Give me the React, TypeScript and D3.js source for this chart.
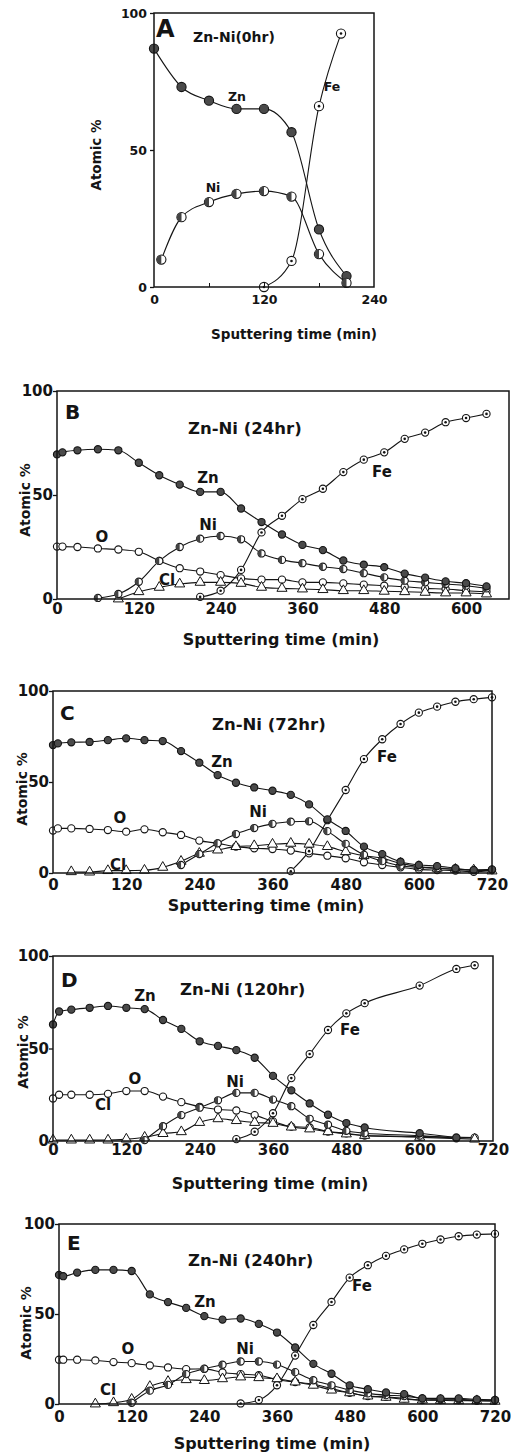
import * as d3 from 'd3';
import { useEffect, useRef } from 'react';

// sputtering time (min) / atomic %

// A : Zn-Ni (0 hr)
const aZnTime = [0, 30, 60, 90, 120, 150, 180, 210];
const aZnPct = [87, 73, 68, 65, 65, 56.5, 21, 4];
const aNiTime = [8, 30, 60, 90, 120, 150, 180, 210];
const aNiPct = [10, 25.5, 31, 34, 35, 33, 12, 1.5];
const aFeTime = [120, 150, 180, 204];
const aFePct = [0, 9.5, 66, 92.5];

// B : Zn-Ni (24 hr)
const bZnTime = [0, 8, 30, 60, 90, 120, 150, 180, 210, 240, 270, 300, 330, 360, 390, 420, 450, 480, 510, 540, 570, 600, 630];
const bZnPct = [69.5, 70.5, 71.5, 72, 71.5, 65.5, 59.5, 55, 51.5, 51.5, 43.5, 37, 31, 26, 23.5, 18.5, 16.5, 15.3, 12.2, 10.3, 8.5, 7.6, 6.1];
const bOTime = [0, 8, 30, 60, 90, 120, 150, 180, 210, 240, 270, 300, 330, 360, 390, 420, 450, 480, 510, 540, 570, 600, 630];
const bOPct = [25.2, 25.2, 25, 24.3, 23.8, 22.7, 18.3, 14.8, 13.2, 11.5, 9.9, 9.3, 9.3, 8, 8, 7.5, 6.9, 6.4, 5.9, 5.1, 4.8, 4, 3.5];
const bNiTime = [60, 90, 120, 150, 180, 210, 240, 270, 300, 330, 360, 390, 420, 450, 480, 510, 540, 570, 600, 630];
const bNiPct = [0.5, 2.4, 8.3, 18.3, 25, 29, 30.3, 28.7, 21.9, 18.8, 17.2, 15.5, 14.4, 12.4, 10.4, 8.8, 8, 7.2, 6.4, 5.1];
const bClTime = [90, 120, 150, 180, 210, 240, 270, 300, 330, 360, 390, 420, 450, 480, 510, 540, 570, 600, 630];
const bClPct = [0, 3.5, 5.6, 7.2, 8, 8, 7.5, 5.6, 5.1, 4.8, 4.5, 4, 4, 3.7, 3.5, 3.2, 2.9, 2.9, 2.4];
const bFeTime = [210, 240, 270, 300, 330, 360, 390, 420, 450, 480, 510, 540, 570, 600, 630];
const bFePct = [1, 4, 14, 32, 40, 48, 53, 61, 67, 70.5, 77, 80, 85, 87, 89];

// C : Zn-Ni (72 hr)
const cZnTime = [0, 8, 30, 60, 90, 120, 150, 180, 210, 240, 270, 300, 330, 360, 390, 420, 450, 480, 510, 540, 570, 600, 630, 660, 690, 720];
const cZnPct = [70.3, 71.2, 71.8, 72, 73, 74, 73, 72.5, 67, 60.6, 53.8, 49.6, 47, 45.2, 42.9, 37.7, 29.5, 23.1, 14.5, 10.4, 6.2, 4.4, 3.8, 2.6, 1.6, 2];
const cOTime = [0, 8, 30, 60, 90, 120, 150, 180, 210, 240, 270, 300, 330, 360, 390, 420, 450, 480, 510, 540, 570, 600, 630, 660, 690, 720];
const cOPct = [23.3, 24.5, 24.5, 24.2, 23.6, 22.7, 24, 22.4, 20.9, 17.8, 16.3, 14.5, 13.6, 13.2, 12.3, 10.8, 9.5, 8.1, 5.9, 4.4, 3.1, 2, 1.6, 1.3, 0.7, 1.6];
const cNiTime = [210, 240, 270, 300, 330, 360, 390, 420, 450, 480, 510, 540, 570, 600, 630, 660, 690, 720];
const cNiPct = [4.4, 10.4, 16.3, 21.4, 24.7, 27, 28.2, 28.4, 23, 16, 10, 6.5, 4, 3.1, 2.6, 2, 1.6, 1.6];
const cClTime = [30, 60, 90, 120, 150, 180, 210, 240, 270, 300, 330, 360, 390, 420, 450, 480, 510, 540, 570, 600, 630, 660, 690, 720];
const cClPct = [0.7, 0.5, 1.3, 1.3, 1.5, 3.1, 6.4, 10.8, 12.6, 14.5, 15, 15.8, 16.3, 15.8, 14.5, 11.7, 9.5, 8.1, 5.3, 3.5, 2.6, 2, 1.6, 1.1];
const cFeTime = [390, 420, 450, 480, 510, 540, 570, 600, 630, 660, 690, 720];
const cFePct = [1, 12, 29, 45.6, 62.6, 73.5, 81.9, 88.1, 91.4, 94.1, 95.5, 96.5];

// D : Zn-Ni (120 hr)
const dZnTime = [0, 10, 30, 60, 90, 120, 150, 180, 210, 240, 270, 300, 330, 360, 390, 420, 450, 480, 510, 600, 660];
const dZnPct = [63, 70, 71, 72, 73, 72, 71.3, 65.4, 60.6, 53.9, 51.4, 49.1, 45, 35.2, 27.4, 20.3, 14.2, 9.7, 7.3, 4.2, 1.9];
const dOTime = [0, 10, 30, 60, 90, 120, 150, 180, 210, 240, 270, 300, 330, 360, 390, 420, 450, 480, 510, 600, 690];
const dOPct = [23, 25, 25, 25, 25.5, 27, 27, 24, 21, 18.5, 17, 16.5, 14, 10.6, 7.8, 7.3, 5.1, 4.2, 2.9, 2.4, 1.8];
const dNiTime = [150, 180, 210, 240, 270, 300, 330, 360, 390, 420, 450, 480, 510, 600, 660];
const dNiPct = [0.5, 8, 14, 18, 22, 26, 26, 22.4, 18.8, 12, 8.8, 5.5, 4.2, 2.9, 1.5];
const dClTime = [0, 30, 60, 90, 120, 150, 180, 210, 240, 270, 300, 330, 360, 390, 420, 450, 480, 510, 600, 690];
const dClPct = [0.5, 0.5, 0.5, 0.5, 1, 2, 4, 5, 10, 12, 11, 10, 9.5, 7.5, 6.5, 5, 3.8, 3, 2, 1];
const dFeTime = [300, 330, 360, 390, 420, 450, 480, 510, 600, 660, 690];
const dFePct = [1, 5, 15, 34, 47, 60, 69, 74.5, 84, 93, 95];

// E : Zn-Ni (240 hr)
const eZnTime = [0, 7, 30, 60, 90, 120, 150, 180, 210, 240, 270, 300, 330, 360, 390, 420, 450, 480, 510, 540, 570, 600, 630, 660, 690, 720];
const eZnPct = [71.7, 71, 73, 74.5, 74.5, 73.9, 60.9, 56.6, 53.4, 48.8, 46.9, 47.5, 44.5, 39.7, 31.4, 22.3, 16.8, 10.4, 8.2, 6.4, 5.5, 3.1, 3.1, 3.1, 2.6, 2.2];
const eOTime = [0, 7, 30, 60, 90, 120, 150, 180, 210, 240, 270, 300, 330, 360, 390, 420, 450, 480, 510, 540, 570, 600, 630, 660, 690, 720];
const eOPct = [24.6, 24.6, 24.6, 24.2, 23.3, 22.7, 21.4, 20.3, 19.4, 19.5, 17.5, 16.6, 16, 13.5, 12.2, 11, 8.6, 6.2, 4.4, 4, 3.1, 2.2, 2.2, 2.2, 1.8, 1.8];
const eNiTime = [120, 150, 180, 210, 240, 270, 300, 330, 360, 390, 420, 450, 480, 510, 540, 570, 600, 630, 660, 690, 720];
const eNiPct = [0.7, 7.4, 10.6, 16.6, 19.6, 21.8, 23.6, 23.6, 21.9, 17.7, 13.2, 10.4, 7.7, 5.9, 4.9, 4.4, 3.1, 2.6, 2.6, 2.2, 2.2];
const eClTime = [60, 90, 120, 150, 180, 210, 240, 270, 300, 330, 360, 390, 420, 450, 480, 510, 540, 570, 600, 630, 660, 690, 720];
const eClPct = [0, 0.7, 2.6, 9.7, 12.5, 13.5, 13, 14, 15, 14.6, 14, 12.2, 10.4, 7.7, 6.2, 4.4, 3.7, 2.6, 2.2, 2, 1.8, 1.8, 1.5];
const eFeTime = [300, 330, 360, 390, 420, 450, 480, 510, 540, 570, 600, 630, 660, 690, 720];
const eFePct = [0.3, 2.2, 10.4, 26.9, 43.9, 56.7, 70.2, 77.1, 82.3, 85.9, 89, 91.4, 93.2, 94.1, 94.5];

const xTicksA = [0, 120, 240];
const xMinorA = [60, 120, 180];
const xTicksB = [0, 120, 240, 360, 480, 600];
const xTicks720 = [0, 120, 240, 360, 480, 600, 720];
const yTicks = [0, 50, 100];

const INK = '#141414';
const FONT = "'DejaVu Sans', sans-serif";

const big = { tick: 15, lab: 15, title: 16.5, letter: 20, ytitle: 14, xtitle: 16, r: 3.6, yPad: 0 };

const panels = [
  {
    letter: 'A', title: 'Zn-Ni(0hr)', l: 154, r: 374, t: 13, b: 287, xEnd: 240,
    xTicks: xTicksA, minor: xMinorA, xPad: 8,
    fs: { tick: 12.5, lab: 12.5, title: 14, letter: 24, ytitle: 13.5, xtitle: 13.5, r: 4.6, yPad: 3 },
    letterPos: [156, 37], titlePos: [193, 42], yTitlePos: [96, 155], xTitlePos: [294, 339],
    series: [
      { kind: 'zn', t: aZnTime, v: aZnPct, lab: 'Zn', at: [237, 96] },
      { kind: 'ni', t: aNiTime, v: aNiPct, lab: 'Ni', at: [213, 187] },
      { kind: 'fe', t: aFeTime, v: aFePct, lab: 'Fe', at: [332, 86] },
    ],
  },
  {
    letter: 'B', title: 'Zn-Ni (24hr)', l: 57, r: 509, t: 391, b: 599, xEnd: 663,
    xTicks: xTicksB, minor: [], xPad: 4, fs: big,
    letterPos: [65, 419], titlePos: [188, 434], yTitlePos: [25, 500], xTitlePos: [281, 645],
    series: [
      { kind: 'o', t: bOTime, v: bOPct, lab: 'O', at: [102, 537] },
      { kind: 'cl', t: bClTime, v: bClPct, lab: 'Cl', at: [167, 580] },
      { kind: 'ni', t: bNiTime, v: bNiPct, lab: 'Ni', at: [208, 525] },
      { kind: 'fe', t: bFeTime, v: bFePct, lab: 'Fe', at: [382, 472] },
      { kind: 'zn', t: bZnTime, v: bZnPct, lab: 'Zn', at: [208, 478] },
    ],
  },
  {
    letter: 'C', title: 'Zn-Ni (72hr)', l: 53, r: 492, t: 691, b: 873, xEnd: 720,
    xTicks: xTicks720, minor: [], xPad: 6, fs: big,
    letterPos: [60, 720], titlePos: [212, 730], yTitlePos: [22, 789], xTitlePos: [266, 911],
    series: [
      { kind: 'o', t: cOTime, v: cOPct, lab: 'O', at: [120, 818] },
      { kind: 'cl', t: cClTime, v: cClPct, lab: 'Cl', at: [118, 865] },
      { kind: 'ni', t: cNiTime, v: cNiPct, lab: 'Ni', at: [258, 812] },
      { kind: 'fe', t: cFeTime, v: cFePct, lab: 'Fe', at: [387, 757] },
      { kind: 'zn', t: cZnTime, v: cZnPct, lab: 'Zn', at: [222, 762] },
    ],
  },
  {
    letter: 'D', title: 'Zn-Ni (120hr)', l: 53, r: 493, t: 956, b: 1141, xEnd: 720,
    xTicks: xTicks720, minor: [], xPad: 3, fs: big,
    letterPos: [61, 987], titlePos: [180, 995], yTitlePos: [23, 1052], xTitlePos: [270, 1189],
    series: [
      { kind: 'o', t: dOTime, v: dOPct, lab: 'O', at: [135, 1079] },
      { kind: 'cl', t: dClTime, v: dClPct, lab: 'Cl', at: [103, 1105] },
      { kind: 'ni', t: dNiTime, v: dNiPct, lab: 'Ni', at: [235, 1082] },
      { kind: 'fe', t: dFeTime, v: dFePct, lab: 'Fe', at: [350, 1030] },
      { kind: 'zn', t: dZnTime, v: dZnPct, lab: 'Zn', at: [145, 996] },
    ],
  },
  {
    letter: 'E', title: 'Zn-Ni (240hr)', l: 59, r: 495, t: 1224, b: 1404, xEnd: 720,
    xTicks: xTicks720, minor: [], xPad: 7, fs: big,
    letterPos: [67, 1250], titlePos: [188, 1266], yTitlePos: [26, 1323], xTitlePos: [272, 1449],
    series: [
      { kind: 'o', t: eOTime, v: eOPct, lab: 'O', at: [128, 1349] },
      { kind: 'cl', t: eClTime, v: eClPct, lab: 'Cl', at: [108, 1390] },
      { kind: 'ni', t: eNiTime, v: eNiPct, lab: 'Ni', at: [245, 1349] },
      { kind: 'fe', t: eFeTime, v: eFePct, lab: 'Fe', at: [362, 1286] },
      { kind: 'zn', t: eZnTime, v: eZnPct, lab: 'Zn', at: [205, 1302] },
    ],
  },
];

function marker(g: any, kind: string, cx: number, cy: number, r: number) {
  if (kind === 'cl') {
    g.append('path')
      .attr('transform', `translate(${cx},${cy})`)
      .attr('d', d3.symbol(d3.symbolTriangle, r * r * 3.4)())
      .attr('fill', '#fff').attr('stroke', INK).attr('stroke-width', 1);
    return;
  }
  g.append('circle')
    .attr('cx', cx).attr('cy', cy).attr('r', r)
    .attr('fill', kind === 'zn' ? '#4a4a4a' : '#fff')
    .attr('stroke', INK).attr('stroke-width', 1.1);
  if (kind === 'ni') {
    g.append('path')
      .attr('d', `M${cx},${cy - r} A${r},${r} 0 0 0 ${cx},${cy + r} Z`)
      .attr('fill', '#444');
  }
  if (kind === 'fe') {
    g.append('circle').attr('cx', cx).attr('cy', cy).attr('r', 1.3).attr('fill', INK);
  }
}

function drawPanel(svg: any, p: any) {
  const x = d3.scaleLinear().domain([0, p.xEnd]).range([p.l, p.r]);
  const y = d3.scaleLinear().domain([0, 100]).range([p.b, p.t]);
  const fs = p.fs;
  const g = svg.append('g').attr('font-family', FONT).attr('font-weight', 'bold');

  const line = d3.line<[number, number]>()
    .x(d => x(d[0]))
    .y(d => y(d[1]))
    .curve(d3.curveMonotoneX);

  p.series.forEach((s: any) => {
    const pts = s.t.map((t: number, i: number) => [t, s.v[i]] as [number, number]);
    g.append('path').attr('d', line(pts)).attr('fill', 'none')
      .attr('stroke', INK).attr('stroke-width', 1.1);
  });
  p.series.forEach((s: any) => {
    s.t.forEach((t: number, i: number) => marker(g, s.kind, x(t), y(s.v[i]), fs.r));
  });

  // frame
  g.append('rect')
    .attr('x', p.l).attr('y', p.t)
    .attr('width', p.r - p.l).attr('height', p.b - p.t)
    .attr('fill', 'none').attr('stroke', INK).attr('stroke-width', 1.5);

  // x axis
  const xa = g.append('g')
    .attr('transform', `translate(0,${p.b})`)
    .call(d3.axisBottom(x).tickValues(p.xTicks).tickSize(0).tickPadding(p.xPad).tickFormat(d3.format('d')));
  xa.select('.domain').remove();
  xa.attr('font-size', fs.tick).attr('font-family', FONT).attr('color', INK);

  if (p.minor.length) {
    const mi = g.append('g')
      .attr('transform', `translate(0,${p.b})`)
      .call(d3.axisBottom(x).tickValues(p.minor).tickSize(-4).tickFormat(() => ''));
    mi.select('.domain').remove();
    mi.attr('color', INK);
  }

  // y axis
  const ya = g.append('g')
    .attr('transform', `translate(${p.l},0)`)
    .call(d3.axisLeft(y).tickValues(yTicks).tickSize(4).tickPadding(fs.yPad));
  ya.select('.domain').remove();
  ya.attr('font-size', fs.tick).attr('font-family', FONT).attr('color', INK);
  ya.selectAll('line').attr('stroke-width', 1.3);

  // texts
  g.append('text').attr('x', p.letterPos[0]).attr('y', p.letterPos[1])
    .attr('font-size', fs.letter).attr('fill', INK).text(p.letter);
  g.append('text').attr('x', p.titlePos[0]).attr('y', p.titlePos[1])
    .attr('font-size', fs.title).attr('fill', INK).text(p.title);
  g.append('text')
    .attr('transform', `translate(${p.yTitlePos[0]},${p.yTitlePos[1]}) rotate(-90)`)
    .attr('text-anchor', 'middle').attr('dominant-baseline', 'central')
    .attr('font-size', fs.ytitle).attr('fill', INK).text('Atomic %');
  g.append('text').attr('x', p.xTitlePos[0]).attr('y', p.xTitlePos[1])
    .attr('text-anchor', 'middle')
    .attr('font-size', fs.xtitle).attr('fill', INK).text('Sputtering time (min)');

  p.series.forEach((s: any) => {
    g.append('text').attr('x', s.at[0]).attr('y', s.at[1])
      .attr('text-anchor', 'middle').attr('dominant-baseline', 'central')
      .attr('font-size', fs.lab).attr('fill', INK).text(s.lab);
  });
}

const App = () => {
  const ref = useRef<SVGSVGElement>(null);

  useEffect(() => {
    const svg = d3.select(ref.current);
    svg.selectAll('*').remove();
    panels.forEach(p => drawPanel(svg, p));
  }, []);

  return (
    <svg
      ref={ref}
      width={511}
      height={1456}
      style={{ position: 'absolute', left: 0, top: 0, background: '#fff' }}
    />
  );
};

export default App;
